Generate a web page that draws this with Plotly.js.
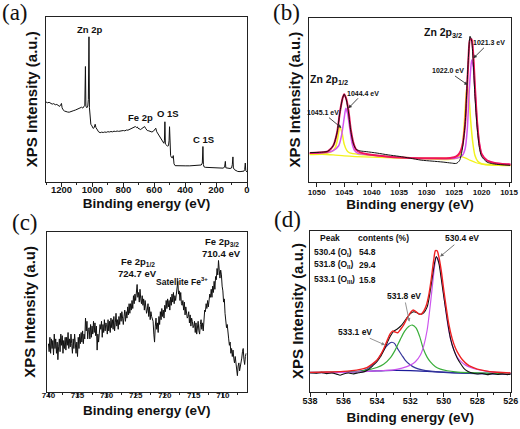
<!DOCTYPE html>
<html><head><meta charset="utf-8">
<script src="https://cdn.plot.ly/plotly-3.0.1.min.js"></script>
<style>html,body{margin:0;padding:0;background:#fff}#chart{width:520px;height:429px}</style>
</head><body><div id="chart"></div>
<script>
// ---------- (a) survey spectrum ----------
const surveyEnergy = [1300,1290,1280,1270,1260,1250,1240,1230,1220,1212,1205,1200,1196,1190,1180,1170,1160,1150,1140,1130,1120,1110,1100,1090,1080,1070,1062,1055,1049,1045,1042,1036,1030,1026,1022,1019,1015,1010,1003,995,988,982,977,970,960,950,940,930,920,910,900,890,880,870,860,850,840,830,820,810,800,790,780,770,760,750,740,730,722,715,710,705,695,688,680,670,662,655,645,635,625,615,605,598,590,584,578,570,562,552,545,538,534,531,528,522,515,508,504,501,498,494,488,482,477,472,465,450,430,400,370,340,310,296,289,285,282,278,270,250,230,210,200,190,170,155,145,140,137,125,110,100,95,91,88,80,70,60,45,30,20,15,11,8,4,0];
const surveyIntensity = [48.5,48.0,48.3,47.6,47.2,47.5,46.8,47.0,46.2,45.8,46.8,47.6,45.0,43.8,43.0,42.6,42.4,42.3,42.5,42.9,43.3,43.6,44.0,44.4,44.9,45.3,44.8,45.5,46.5,70.0,46.0,45.0,46.0,50.0,88.0,45.0,38.0,35.0,34.0,32.5,33.0,35.0,33.0,31.5,30.4,29.9,30.2,30.0,30.3,30.1,30.5,30.3,30.6,30.4,30.8,30.6,30.9,30.7,31.0,30.9,31.2,31.0,31.5,31.4,31.9,32.2,32.6,33.2,33.6,33.0,33.4,32.6,32.2,31.8,32.4,33.0,33.6,32.4,31.2,31.0,30.6,30.3,30.8,31.9,32.6,30.5,29.5,28.0,26.8,25.8,24.0,23.5,25.0,36.5,23.0,22.2,21.8,22.0,25.0,33.5,24.0,16.0,14.8,14.6,16.0,11.0,9.9,9.8,9.9,9.8,9.8,9.9,9.8,10.3,11.5,21.5,10.5,9.2,8.9,8.8,8.7,8.8,8.6,8.7,8.4,8.4,9.0,12.5,8.6,8.3,8.2,8.5,10.5,15.2,8.5,7.4,6.8,6.4,6.3,6.4,6.6,7.5,11.5,7.0,6.2,6.0];

// ---------- (b) Zn 2p ----------
const znExpEnergy = [1051.2,1049.5,1048.0,1047.0,1046.3,1045.8,1045.3,1045.0,1044.6,1044.2,1043.8,1043.3,1042.8,1042.0,1041.0,1039.0,1037.0,1035.0,1033.0,1031.0,1029.0,1027.0,1025.5,1024.6,1024.0,1023.5,1023.0,1022.7,1022.4,1022.1,1021.8,1021.5,1021.2,1020.8,1020.4,1020.0,1019.0,1018.0,1016.5,1014.8];
const znExpIntensity = [17.8,18.0,18.6,22.0,30,42,51,53.5,50,42,31,23,19.8,18.8,18.4,17.5,16.4,15.5,14.4,13.2,12.6,12.0,11.4,11.2,13,20,35,55,76,89,86,72,52,33,21,15.5,12,11,10.4,10.0];
const znFitEnergy = [1051.3,1049.5,1048.0,1047.0,1046.3,1045.8,1045.3,1045.0,1044.6,1044.2,1043.8,1043.3,1042.8,1042.0,1041.0,1039.0,1037.0,1035.0,1033.0,1031.0,1029.0,1027.0,1025.5,1024.6,1024.0,1023.5,1023.0,1022.7,1022.4,1022.1,1021.8,1021.5,1021.2,1020.8,1020.4,1020.0,1019.0,1018.0,1016.5,1014.7];
const znFitIntensity = [17.6,17.8,18.6,22,30,42,51,53.5,50.5,43,32,23.5,19.5,17.8,17.0,16.0,15.3,14.8,14.5,14.4,14.3,14.3,14.6,15.5,17.5,22,35,53,74,87,87,77,58,36,23,17,13,11.8,11,10.6];
const zn1Energy = [1051.3,1049.5,1048,1047,1046,1045.5,1045.0,1044.7,1044.4,1044.0,1043.6,1043.1,1042.5,1041,1038,1035,1032,1029,1026,1024.5,1023.5,1023.0,1022.6,1022.3,1022.0,1021.8,1021.5,1021.2,1020.8,1020.4,1020.0,1019,1018,1016.5,1014.7];
const zn1Intensity = [17.4,17.6,18,19,22,28,39,44.9,42,33,24,19,17.3,16.6,15.6,14.9,14.4,14.2,14.1,14.5,16,20,32,52,68,74.5,70,56,36,23,17,13,11.8,11,10.6];
const zn2Energy = [1051.3,1049.5,1048.0,1047.2,1046.6,1046.2,1045.8,1045.4,1045.0,1044.5,1044.0,1042.0,1039.0,1035.0,1031.0,1027.0,1025.0,1024.0,1023.5,1023.1,1022.8,1022.6,1022.3,1022.0,1021.6,1021.2,1020.7,1020.0,1018.0,1014.7];
const zn2Intensity = [16.9,17.2,17.6,18.5,21,26,33.7,30,23,19,17.6,16.6,15.8,15.0,14.5,14.3,14.6,16.2,22,38,54,59.2,52,38,24,16,12.5,11.0,10.4,10.0];
const znBgEnergy = [1051.3,1049.0,1047.0,1045.0,1043.0,1040.0,1035.0,1030.0,1026.0,1024.5,1023.8,1023.0,1022.0,1021.0,1019.5,1017.0,1014.7];
const znBgIntensity = [16.6,16.8,16.4,15.8,15.4,15.0,14.5,14.0,13.6,14.2,15.3,14.6,13.0,11.6,10.5,10.0,9.8];

// ---------- (c) Fe 2p ----------
const feEnergy = [
740,739.875,739.75,739.625,739.5,739.375,739.25,739.125,
739,738.875,738.75,738.625,738.5,738.375,738.25,738.125,
738,737.875,737.75,737.625,737.5,737.375,737.25,737.125,
737,736.875,736.75,736.625,736.5,736.375,736.25,736.125,
736,735.875,735.75,735.625,735.5,735.375,735.25,735.125,
735,734.875,734.75,734.625,734.5,734.375,734.25,734.125,
734,733.875,733.75,733.625,733.5,733.375,733.25,733.125,
733,732.875,732.75,732.625,732.5,732.375,732.25,732.125,
732,731.875,731.75,731.625,731.5,731.375,731.25,731.125,
731,730.875,730.75,730.625,730.5,730.375,730.25,730.125,
730,729.875,729.75,729.625,729.5,729.375,729.25,729.125,
729,728.875,728.75,728.625,728.5,728.375,728.25,728.125,
728,727.875,727.75,727.625,727.5,727.375,727.25,727.125,
727,726.875,726.75,726.625,726.5,726.375,726.25,726.125,
726,725.875,725.75,725.625,725.5,725.375,725.25,725.125,
725,724.875,724.75,724.625,724.5,724.375,724.25,724.125,
724,723.875,723.75,723.625,723.5,723.375,723.25,723.125,
723,722.875,722.75,722.625,722.5,722.375,722.25,722.125,
722,721.875,721.75,721.625,721.5,721.375,721.25,721.125,
721,720.875,720.75,720.625,720.5,720.375,720.25,720.125,
720,719.875,719.75,719.625,719.5,719.375,719.25,719.125,
719,718.875,718.75,718.625,718.5,718.375,718.25,718.125,
718,717.875,717.75,717.625,717.5,717.375,717.25,717.125,
717,716.875,716.75,716.625,716.5,716.375,716.25,716.125,
716,715.875,715.75,715.625,715.5,715.375,715.25,715.125,
715,714.875,714.75,714.625,714.5,714.375,714.25,714.125,
714,713.875,713.75,713.625,713.5,713.375,713.25,713.125,
713,712.875,712.75,712.625,712.5,712.375,712.25,712.125,
712,711.875,711.75,711.625,711.5,711.375,711.25,711.125,
711,710.875,710.75,710.625,710.5,710.375,710.25,710.125,
710,709.875,709.75,709.625,709.5,709.375,709.25,709.125,
709,708.875,708.75,708.625,708.5,708.375,708.25,708.125,
708,707.875,707.75,707.625,707.5,707.375,707.25,707.125,
707,706.875,706.75,706.625,706.5,706.375,706.25,706.125,
706];
const feIntensity = [
30,25,34,24,33,27,32,23,
36,27,33,24,31,20,28,33,
25,36,29,35,24,32,27,34,
26,34,29,37,27,33,28,36,
30,24,33,27,36,29,24,31,
22,34,27,36,30,37,31,38,
30,36,33,46,38,44,33,39,
40,33,42,34,41,36,44,37,
43,35,41,26,36,31,39,42,
39,44,34,42,37,45,38,43,
42,36,45,38,44,37,46,40,
45,39,47,38,43,49,41,45,
39,47,42,49,44,50,46,42,
47,51,44,50,46,53,48,55,
49,55,51,57,52,60,55,61,
57,64,67,59,62,56,64,58,
55,60,54,58,51,57,53,49,
51,55,47,53,45,50,47,44,
44,36,31,41,46,39,43,37,
47,42,50,45,52,47,51,46,
54,50,57,52,58,53,57,51,
59,54,61,56,62,55,60,57,
60,66,69,61,63,57,62,55,
54,57,51,56,48,53,50,46,
47,50,43,48,41,46,44,40,
41,44,37,43,36,41,44,38,
36,42,45,39,43,38,47,51,
50,55,52,57,53,58,61,59,
64,59,66,62,69,64,72,70,
77,73,82,76,71,76,73,66,
63,56,58,49,45,40,42,35,
33,29,31,24,27,22,26,21,
18,22,19,14,10,16,18,13,
15,19,21,25,27,20,17,22,
24];

// ---------- (d) O 1s ----------
const oExpEnergy = [538.0,537.6,537.3,537.0,536.7,536.4,536.2,536.0,535.7,535.4,535.1,534.8,534.6,534.4,534.2,534.0,533.8,533.6,533.4,533.2,533.0,532.8,532.6,532.4,532.2,532.0,531.8,531.6,531.4,531.2,531.0,530.85,530.7,530.55,530.45,530.3,530.15,530.0,529.8,529.6,529.4,529.2,529.0,528.8,528.6,528.4,528.2,528.0,527.7,527.4,527.1,526.8,526.5,526.2,526.0];
const oExpIntensity = [11.8,11.5,12.0,11.2,11.7,10.9,10.2,11.0,11.6,11.1,11.8,12.3,13.2,14.6,16.6,18.6,21.5,25.5,30.0,34.5,37.5,38.8,40.5,43.0,46.0,48.5,49.7,49.0,48.0,49.0,52.5,60,70,80,83.9,80,70,59,45,33,25.9,21,17.5,14.5,12.8,11.9,11.3,11.0,11.3,10.6,11.2,10.7,11.1,10.6,11.0];
const oFitEnergy = [538.0,537.0,536.0,535.5,535.0,534.6,534.3,534.0,533.8,533.6,533.4,533.2,533.05,532.9,532.75,532.6,532.4,532.2,532.0,531.85,531.7,531.5,531.35,531.2,531.05,530.9,530.75,530.6,530.5,530.4,530.3,530.15,530.0,529.85,529.7,529.5,529.3,529.1,528.9,528.6,528.3,528.0,527.5,527.0,526.5,526.0];
const oFitIntensity = [12.0,12.2,12.6,13.1,13.9,15.0,17.0,19.5,22.5,26.5,31.5,36.0,37.8,37.0,36.6,38.5,41.5,45.5,49.0,50.7,50.0,48.4,48.2,50.0,53.5,60,70,82,87.6,87.5,84,75,63,52,42,33,27,23,20,17,15.2,14.0,12.9,12.2,11.9,11.7];
const oIEnergy = [538,536,535,534,533,532.5,532.0,531.7,531.4,531.2,531.0,530.85,530.7,530.55,530.45,530.35,530.2,530.05,529.9,529.75,529.6,529.4,529.2,529.0,528.7,528.4,528.0,527.5,527.0,526.5,526.0];
const oIIntensity = [11.8,12.0,12.4,12.9,13.5,14.6,16.5,18.6,22.8,28.5,38,50,64,78,83.5,82.5,76,64,52,41,33,26,21.5,19,16.5,15,13.8,12.8,12.2,11.8,11.6];
const oIIEnergy = [538,536,535,534.5,534.0,533.6,533.2,532.9,532.6,532.35,532.1,531.88,531.65,531.45,531.22,531.0,530.8,530.5,530.2,529.8,529.3,528.5,527.5,526];
const oIIIntensity = [11.8,12.1,12.7,13.6,15.0,17.0,21.0,26,32.5,37.5,40.5,41.4,39.5,34.5,26.5,21.5,18.5,15.5,14.0,13.0,12.3,11.8,11.5,11.3];
const oIIIEnergy = [538,536,535,534.6,534.3,534.0,533.7,533.45,533.2,533.1,532.95,532.75,532.5,532.3,532.0,531.7,531.3,530.8,530,529,528,526];
const oIIIIntensity = [11.8,12.1,12.8,14.0,16.5,19.5,24.0,28.0,30.4,30.7,30.0,26.5,22.5,19.5,16.6,14.8,13.6,12.8,12.2,11.8,11.5,11.2];
const oBgEnergy = [538,536,534,533,532,531,530,529,528,527,526];
const oBgIntensity = [12.0,12.2,12.9,13.2,13.1,12.6,12.0,11.5,11.2,11.0,10.9];

// table text
const peakLabels = ['530.4 (O<sub>I</sub>)','531.8 (O<sub>II</sub>)','533.1 (O<sub>III</sub>)'];
const peakContents = ['54.8','29.4','15.8'];

// ---------- styling ----------
const F = 'Liberation Sans, Arial, sans-serif';
const SERIF = 'Liberation Serif, Times New Roman, serif';
const bold = (size, color) => ({family: F, size: size, color: color || '#111', weight: 'bold'});

function xAx(domain, range, dtick, minorDtick, anchor, tickSize, lblShift, standoff) {
  return {domain: domain, range: range, anchor: anchor, dtick: dtick, tick0: 0,
    showline: true, mirror: true, linecolor: '#222', linewidth: 1,
    ticks: 'outside', ticklen: 4, tickwidth: 1, tickcolor: '#222',
    ticklabelstandoff: lblShift,
    minor: {ticks: 'outside', ticklen: 2, dtick: minorDtick, tickcolor: '#222', tickwidth: 1},
    showgrid: false, zeroline: false, tickfont: bold(tickSize),
    title: {text: 'Binding energy (eV)', font: bold(13.5), standoff: standoff}};
}
function yAx(domain, anchor) {
  return {domain: domain, range: [0, 100], anchor: anchor,
    showline: true, mirror: true, linecolor: '#222', linewidth: 1,
    ticks: '', showticklabels: false, showgrid: false, zeroline: false};
}
function line(x, y, xa, ya, color, width, shape) {
  return {x: x, y: y, xaxis: xa, yaxis: ya, type: 'scatter', mode: 'lines',
    line: {color: color, width: width, shape: shape || 'linear', smoothing: 0.7}, hoverinfo: 'skip'};
}

const RED_B = '#f0145a', MAG = '#d455f0', YEL = '#f2f21e';
const traces = [
  line(surveyEnergy, surveyIntensity, 'x', 'y', '#111', 1),
  line(znBgEnergy, znBgIntensity, 'x2', 'y2', YEL, 1.3, 'spline'),
  line(zn2Energy, zn2Intensity, 'x2', 'y2', YEL, 1.5, 'spline'),
  line(zn1Energy, zn1Intensity, 'x2', 'y2', MAG, 1.5, 'spline'),
  line(znFitEnergy, znFitIntensity, 'x2', 'y2', RED_B, 2, 'spline'),
  line(znExpEnergy, znExpIntensity, 'x2', 'y2', '#111', 1, 'spline'),
  line(feEnergy, feIntensity, 'x3', 'y3', '#111', 1),
  line(oBgEnergy, oBgIntensity, 'x4', 'y4', '#1c1c9a', 1.2, 'spline'),
  line(oIIIEnergy, oIIIIntensity, 'x4', 'y4', '#34349a', 1.2, 'spline'),
  line(oIIEnergy, oIIIntensity, 'x4', 'y4', '#3aae3a', 1.2, 'spline'),
  line(oIEnergy, oIIntensity, 'x4', 'y4', '#cc55ee', 1.2, 'spline'),
  line(oExpEnergy, oExpIntensity, 'x4', 'y4', '#111', 1.1, 'spline'),
  line(oFitEnergy, oFitIntensity, 'x4', 'y4', '#ee2222', 1.4, 'spline')
];

function txt(xref, yref, x, y, text, size, extra) {
  return Object.assign({xref: xref, yref: yref, x: x, y: y, text: text, showarrow: false,
    font: bold(size), xanchor: 'center', yanchor: 'middle'}, extra || {});
}
// label with arrow: (x,y) = arrow head, (ax,ay) = pixel offset of the label centre
function lbl(xref, yref, x, y, ax, ay, text, size, color) {
  return {xref: xref, yref: yref, x: x, y: y, ax: ax, ay: ay, axref: 'pixel', ayref: 'pixel',
    text: text, font: bold(size), showarrow: true, arrowhead: 2, arrowsize: 0.8, arrowwidth: 0.9,
    arrowcolor: color || '#333', standoff: 0, startstandoff: 0};
}
function panel(x, y, t) {
  return {xref: 'paper', yref: 'paper', x: x, y: y, text: t, showarrow: false,
    font: {family: SERIF, size: 23, color: '#111'}, xanchor: 'center', yanchor: 'middle'};
}
function ytitle(px, py, t) {
  return {xref: 'paper', yref: 'paper', x: px/520, y: 1 - py/429, text: t, textangle: -90,
    showarrow: false, font: bold(15), xanchor: 'center', yanchor: 'middle'};
}

const annotations = [
  panel(14.5/520, 1 - 13/429, '(a)'),
  panel(286.5/520, 1 - 13/429, '(b)'),
  panel(25/520, 1 - 222/429, '(c)'),
  panel(287.5/520, 1 - 220/429, '(d)'),
  ytitle(31.7, 99.5, 'XPS Intensity (a.u.)'),
  ytitle(293.5, 100, 'XPS Intensity (a.u.)'),
  ytitle(30, 311.7, 'XPS Intensity (a.u)'),
  ytitle(296.7, 311.2, 'XPS Intensity (a.u.)'),
  // (a)
  txt('x', 'y', 1015, 92.5, 'Zn 2p', 9.5),
  txt('x', 'y', 687, 39.2, 'Fe 2p', 9.5),
  txt('x', 'y', 511, 41.6, 'O 1S', 9.5),
  txt('x', 'y', 284.6, 25.9, 'C 1S', 9.5),
  // (b)
  txt('x2', 'y2', 1027.0, 91, 'Zn 2p<sub>3/2</sub>', 10.5),
  txt('x2', 'y2', 1047.8, 62.2, 'Zn 2p<sub>1/2</sub>', 10.5),
  lbl('x2', 'y2', 1021.5, 75.5, 15.7, -15.6, '1021.3 eV', 7),
  lbl('x2', 'y2', 1022.5, 59.2, -20, -14, '1022.0 eV', 7),
  lbl('x2', 'y2', 1044.25, 44.9, 14.5, -15, '1044.4 eV', 7),
  lbl('x2', 'y2', 1045.5, 32.9, -18.5, -15.3, '1045.1 eV', 7),
  // (c)
  txt('x3', 'y3', 710.2, 93.8, 'Fe 2p<sub>3/2</sub>', 9.5),
  txt('x3', 'y3', 710.3, 86.5, '710.4 eV', 9.5),
  txt('x3', 'y3', 724.6, 81.3, 'Fe 2p<sub>1/2</sub>', 9.5),
  txt('x3', 'y3', 724.6, 74, '724.7 eV', 9.5),
  txt('x3', 'y3', 717.0, 68.8, 'Satellite Fe<sup>3+</sup>', 8.5),
  // (d)
  txt('x4', 'y4', 536.8, 95.3, 'Peak', 8.5),
  txt('x4', 'y4', 533.63, 95.3, 'contents (%)', 8.5),
  lbl('x4', 'y4', 530.22, 83.9, 22, -18.4, '530.4 eV', 8.5, '#666'),
  lbl('x4', 'y4', 532.06, 43.5, -5.3, -25.7, '531.8 eV', 8.5, '#888'),
  lbl('x4', 'y4', 533.51, 29, -30, -13.3, '533.1 eV', 8.5, '#888')
];
const rowY = [86.6, 78.7, 69.4];
for (let i = 0; i < peakLabels.length; i++) {
  annotations.push(txt('x4', 'y4', 537.9, rowY[i], peakLabels[i], 8.5, {xanchor: 'left'}));
  annotations.push(txt('x4', 'y4', 535.2, rowY[i], peakContents[i], 8.5, {xanchor: 'left'}));
}

const layout = {
  width: 520, height: 429, margin: {l: 0, r: 0, t: 0, b: 0},
  paper_bgcolor: '#fff', plot_bgcolor: '#fff', showlegend: false,
  xaxis: xAx([46/520, 247/520], [1300, 0], 200, 100, 'y', 9.5, -5, 4),
  yaxis: yAx([1 - 182/429, 1 - 17/429], 'x'),
  xaxis2: xAx([309.3/520, 510.7/520], [1051.35, 1014.7], 5, 2.5, 'y2', 8, -1, 0),
  yaxis2: yAx([1 - 181.7/429, 1 - 18.3/429], 'x2'),
  xaxis3: xAx([46.7/520, 246.7/520], [740.3, 705.9], 5, 2.5, 'y3', 8, -8, 6),
  yaxis3: yAx([1 - 391.7/429, 1 - 231.7/429], 'x3'),
  xaxis4: xAx([310/520, 510.7/520], [538, 526], 2, 1, 'y4', 9, -4, 8),
  yaxis4: yAx([1 - 391.7/429, 1 - 230.7/429], 'x4'),
  annotations: annotations
};

Plotly.newPlot('chart', traces, layout, {staticPlot: true, displayModeBar: false});
</script>
</body></html>
